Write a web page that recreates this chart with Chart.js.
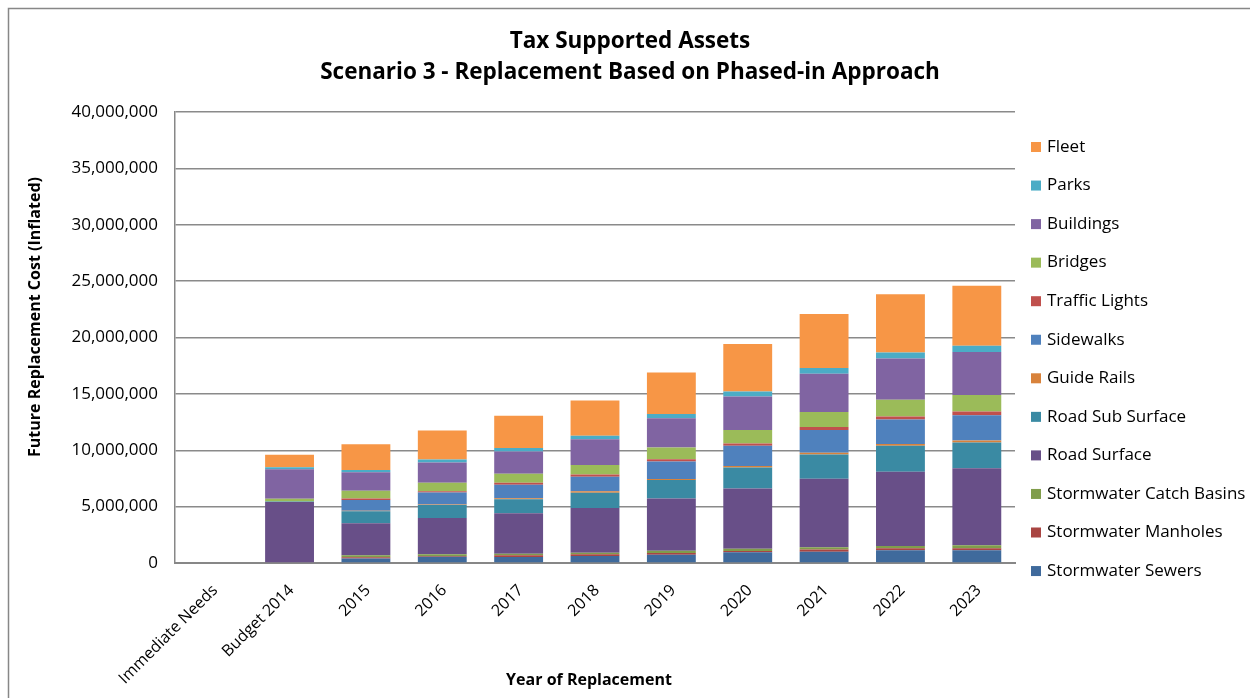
<!DOCTYPE html>
<html>
<head>
<meta charset="utf-8">
<title>Tax Supported Assets</title>
<script src="https://cdn.jsdelivr.net/npm/chart.js@4.4.1/dist/chart.umd.min.js"></script>
<style>
  html, body { margin: 0; padding: 0; background: #ffffff; }
  #wrap { position: relative; width: 1250px; height: 698px; }
</style>
</head>
<body>
<div id="wrap"><canvas id="chart" width="1250" height="698"></canvas></div>
<script>
// Replacement years
const categories = ['Immediate Needs', 'Budget 2014', '2015', '2016', '2017', '2018', '2019', '2020', '2021', '2022', '2023'];

// Future replacement cost (inflated) per asset class, stacked bottom to top
const stormwaterSewers   = [0,       0,  410000,  560000,  530000,  620000,  740000,  950000, 1000000, 1120000, 1120000];
const stormwaterManholes = [0,       0,   90000,   60000,  150000,  150000,  150000,  120000,  200000,  180000,  180000];
const catchBasins        = [0,       0,  180000,  150000,  150000,  150000,  200000,  200000,  200000,  200000,  270000];
const roadSurface        = [0, 5400000, 2840000, 3220000, 3580000, 3960000, 4620000, 5330000, 6070000, 6600000, 6830000];
const roadSubSurface     = [0,   50000, 1060000, 1150000, 1240000, 1360000, 1660000, 1860000, 2160000, 2310000, 2280000];
const guideRails         = [0,       0,   50000,   50000,  100000,  120000,   90000,  150000,  150000,  150000,  180000];
const sidewalks          = [0,       0,  950000, 1060000, 1180000, 1300000, 1540000, 1780000, 2010000, 2160000, 2250000];
const trafficLights      = [0,       0,  150000,  120000,  180000,  180000,  200000,  200000,  270000,  270000,  330000];
const bridges            = [0,  240000,  680000,  740000,  800000,  860000, 1040000, 1210000, 1330000, 1480000, 1450000];
const buildings          = [0, 2630000, 1630000, 1800000, 1980000, 2280000, 2600000, 2960000, 3400000, 3670000, 3820000];
const parks              = [0,  180000,  200000,  270000,  300000,  300000,  380000,  440000,  500000,  530000,  560000];
const fleet              = [0, 1090000, 2300000, 2570000, 2870000, 3130000, 3670000, 4230000, 4790000, 5170000, 5320000];

// Y axis tick values
const yTicks = [0, 5000000, 10000000, 15000000, 20000000, 25000000, 30000000, 35000000, 40000000];

const seriesNames = ['Stormwater Sewers', 'Stormwater Manholes', 'Stormwater Catch Basins', 'Road Surface',
  'Road Sub Surface', 'Guide Rails', 'Sidewalks', 'Traffic Lights', 'Bridges', 'Buildings', 'Parks', 'Fleet'];
const seriesValues = [stormwaterSewers, stormwaterManholes, catchBasins, roadSurface, roadSubSurface,
  guideRails, sidewalks, trafficLights, bridges, buildings, parks, fleet];
const seriesColors = ['#3F6A9C', '#A94542', '#809D4B', '#684F88', '#3A8AA3', '#D8823B',
  '#4F81BD', '#C0504D', '#9BBB59', '#8064A2', '#4BACC6', '#F79646'];

const titleLines = ['Tax Supported Assets', 'Scenario 3 - Replacement Based on Phased-in Approach'];
const xTitle = 'Year of Replacement';
const yTitle = 'Future Replacement Cost (Inflated)';

const FONT = "'Open Sans', 'Liberation Sans', sans-serif";

// Outer frame of the chart object
const framePlugin = {
  id: 'frame',
  beforeDraw(chart) {
    const ctx = chart.ctx;
    ctx.save();
    ctx.fillStyle = '#ffffff';
    ctx.fillRect(0, 0, chart.width, chart.height);
    ctx.strokeStyle = '#878787';
    ctx.lineWidth = 1.5;
    ctx.strokeRect(8.5, 8.5, chart.width + 20, chart.height + 20);
    ctx.restore();
  }
};

// Chart title (centred on the whole chart object) and axis titles
const titlesPlugin = {
  id: 'titles',
  afterDraw(chart) {
    const ctx = chart.ctx;
    ctx.save();
    ctx.fillStyle = '#000000';
    ctx.textAlign = 'center';
    ctx.textBaseline = 'middle';
    ctx.font = 'bold 22.5px ' + FONT;
    ctx.fillText(titleLines[0], 630, 42);
    ctx.fillText(titleLines[1], 630, 73);

    ctx.font = 'bold 16px ' + FONT;
    ctx.fillText(xTitle, 589, 680);

    ctx.translate(35, 317);
    ctx.rotate(-Math.PI / 2);
    ctx.fillText(yTitle, 0, 0);
    ctx.restore();
  }
};

// Vertical legend on the right, top entry is the top of the stack
const sideLegend = {
  id: 'sideLegend',
  afterDraw(chart) {
    const ctx = chart.ctx;
    const ds = chart.data.datasets;
    const x0 = chart.chartArea.right + 16;
    const yTop = 147, step = 38.55;
    ctx.save();
    ctx.font = '17px ' + FONT;
    ctx.textBaseline = 'middle';
    ctx.textAlign = 'left';
    for (let i = ds.length - 1, row = 0; i >= 0; i--, row++) {
      const y = yTop + row * step;
      ctx.fillStyle = ds[i].backgroundColor;
      ctx.fillRect(x0, y - 5, 10, 10);
      ctx.fillStyle = '#000000';
      ctx.fillText(ds[i].label, x0 + 16, y);
    }
    ctx.restore();
  }
};

const datasets = seriesNames.map((name, i) => ({
  label: name,
  data: seriesValues[i],
  backgroundColor: seriesColors[i],
  borderWidth: 0,
  categoryPercentage: 1.0,
  barPercentage: 0.64
}));

new Chart(document.getElementById('chart'), {
  type: 'bar',
  data: { labels: categories, datasets },
  plugins: [framePlugin, titlesPlugin, sideLegend],
  options: {
    responsive: false,
    animation: false,
    layout: { padding: { left: 0, right: 235, top: 112, bottom: 0 } },
    plugins: {
      legend: { display: false },
      tooltip: { enabled: false },
      title: { display: false }
    },
    scales: {
      x: {
        stacked: true,
        grid: { display: false, drawTicks: false },
        border: { display: true, color: '#878787', width: 2 },
        ticks: {
          color: '#000000',
          font: { family: FONT, size: 16 },
          minRotation: 45, maxRotation: 45,
          padding: 18,
          labelOffset: 2,
          autoSkip: false
        },
        afterFit(scale) { scale.height = 135; }
      },
      y: {
        stacked: true,
        min: 0, max: 40000000,
        afterBuildTicks(scale) { scale.ticks = yTicks.map(v => ({ value: v })); },
        grid: { color: '#8a8a8a', lineWidth: 1.5, drawTicks: false },
        border: { display: true, color: '#878787', width: 1.5 },
        ticks: {
          color: '#000000',
          font: { family: FONT, size: 17 },
          padding: 17,
          callback: v => Number(v).toLocaleString('en-US')
        },
        afterFit(scale) { scale.width = 175; }
      }
    }
  }
});
</script>
</body>
</html>
